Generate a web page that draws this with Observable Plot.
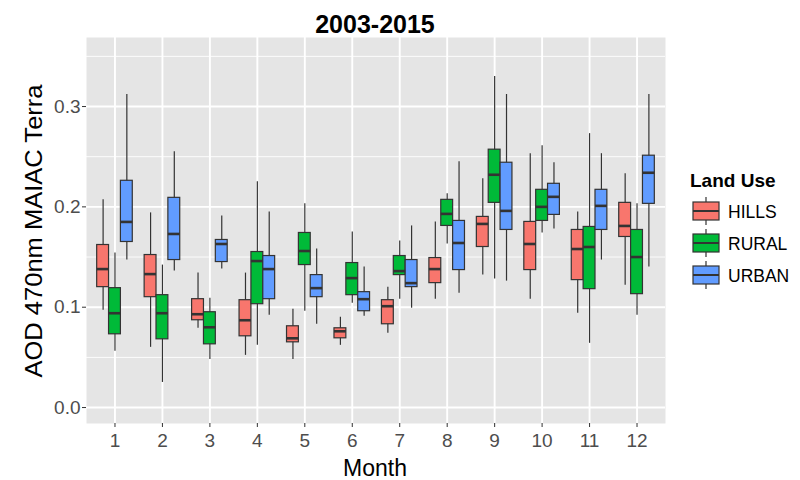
<!DOCTYPE html>
<html>
<head>
<meta charset="utf-8">
<script src="https://cdn.jsdelivr.net/npm/d3@7"></script>
<script src="https://cdn.jsdelivr.net/npm/@observablehq/plot@0.6"></script>
<style>
  html, body { margin: 0; padding: 0; background: #fff; }
  #wrap { position: relative; width: 800px; height: 480px; font-family: "Liberation Sans", Arial, sans-serif; }
  #wrap svg { position: absolute; left: 0; top: 0; }
</style>
</head>
<body>
<div id="wrap"></div>
<script>
// ---- data ----
const months = [1, 2, 3, 4, 5, 6, 7, 8, 9, 10, 11, 12];
const landUses = ["HILLS", "RURAL", "URBAN"];
const landColors = ["#F8766D", "#00BA38", "#619CFF"];
const yTicks = [0.0, 0.1, 0.2, 0.3];
const yMinorTicks = [0.05, 0.15, 0.25, 0.35];

const hillsLo  = [0.097, 0.060, 0.079, 0.052, 0.048, 0.062, 0.074, 0.108, 0.132, 0.108, 0.094, 0.122];
const hillsQ1  = [0.120, 0.110, 0.087, 0.071, 0.065, 0.069, 0.083, 0.124, 0.160, 0.137, 0.127, 0.170];
const hillsMed = [0.138, 0.133, 0.093, 0.087, 0.069, 0.076, 0.101, 0.138, 0.183, 0.163, 0.158, 0.181];
const hillsQ3  = [0.162, 0.152, 0.108, 0.107, 0.081, 0.079, 0.107, 0.149, 0.190, 0.185, 0.177, 0.204];
const hillsHi  = [0.207, 0.194, 0.134, 0.134, 0.098, 0.090, 0.120, 0.185, 0.228, 0.253, 0.195, 0.233];

const ruralLo  = [0.056, 0.025, 0.048, 0.062, 0.096, 0.104, 0.108, 0.163, 0.128, 0.174, 0.064, 0.092];
const ruralQ1  = [0.073, 0.068, 0.063, 0.103, 0.142, 0.112, 0.132, 0.181, 0.204, 0.186, 0.118, 0.113];
const ruralMed = [0.094, 0.094, 0.080, 0.146, 0.156, 0.129, 0.136, 0.193, 0.232, 0.200, 0.160, 0.150];
const ruralQ3  = [0.119, 0.112, 0.095, 0.155, 0.174, 0.144, 0.151, 0.207, 0.257, 0.217, 0.180, 0.177];
const ruralHi  = [0.154, 0.142, 0.109, 0.225, 0.203, 0.175, 0.166, 0.213, 0.330, 0.261, 0.273, 0.203];

const urbanLo  = [0.147, 0.136, 0.138, 0.092, 0.083, 0.091, 0.099, 0.114, 0.126, 0.178, 0.147, 0.140];
const urbanQ1  = [0.165, 0.147, 0.145, 0.108, 0.110, 0.096, 0.120, 0.137, 0.177, 0.192, 0.177, 0.203];
const urbanMed = [0.185, 0.173, 0.163, 0.138, 0.119, 0.108, 0.124, 0.164, 0.196, 0.210, 0.201, 0.234];
const urbanQ3  = [0.226, 0.209, 0.167, 0.151, 0.132, 0.115, 0.147, 0.186, 0.244, 0.223, 0.217, 0.251];
const urbanHi  = [0.312, 0.255, 0.191, 0.195, 0.158, 0.140, 0.181, 0.245, 0.312, 0.244, 0.253, 0.312];

const titleText = "2003-2015";
const xLabel = "Month";
const yLabel = "AOD 470nm MAIAC Terra";
const legendTitle = "Land Use";

// ---- build table ----
const stats = {
  HILLS: [hillsLo, hillsQ1, hillsMed, hillsQ3, hillsHi],
  RURAL: [ruralLo, ruralQ1, ruralMed, ruralQ3, ruralHi],
  URBAN: [urbanLo, urbanQ1, urbanMed, urbanQ3, urbanHi]
};
const rows = [];
landUses.forEach((lu, gi) => {
  const [lo, q1, med, q3, hi] = stats[lu];
  months.forEach((m, i) => {
    rows.push({month: m, group: lu, gi, lo: lo[i], q1: q1[i], med: med[i], q3: q3[i], hi: hi[i]});
  });
});

// dodge: 3 groups in 0.75 of a category width
const dodge = 0.75, n = landUses.length, bw = dodge / n;
const cx = d => d.month - dodge / 2 + bw * (d.gi + 0.5);
const x1 = d => cx(d) - bw / 2;
const x2 = d => cx(d) + bw / 2;

const ink = "#333333";
const textCol = "#4D4D4D";

const plot = Plot.plot({
  width: 800,
  height: 480,
  marginTop: 37,
  marginBottom: 57,
  marginLeft: 86,
  marginRight: 135,
  style: {fontFamily: "'Liberation Sans', Arial, sans-serif", background: "transparent"},
  x: {type: "linear", domain: [0.4, 12.6]},
  y: {domain: [-0.0159, 0.3688]},
  color: {domain: landUses, range: landColors},
  marks: [
    Plot.frame({fill: "#E5E5E5", stroke: "none"}),
    Plot.ruleY(yMinorTicks, {stroke: "#FFFFFF", strokeWidth: 0.9}),
    Plot.ruleY(yTicks, {stroke: "#FFFFFF", strokeWidth: 1.9}),
    Plot.ruleX(months, {stroke: "#FFFFFF", strokeWidth: 1.9}),
    Plot.ruleX(rows, {x: cx, y1: "lo", y2: "hi", stroke: ink, strokeWidth: 1.2}),
    Plot.rect(rows, {x1, x2, y1: "q1", y2: "q3", fill: "group", stroke: ink, strokeWidth: 1.2}),
    Plot.ruleY(rows, {x1, x2, y: "med", stroke: ink, strokeWidth: 2.6}),
    Plot.axisY({ticks: yTicks, tickFormat: d3.format(".1f"), label: null, fontSize: 19,
      tickSize: 4, tickPadding: 2, stroke: ink, color: textCol}),
    Plot.axisX({ticks: months, tickFormat: d => String(d), label: null, fontSize: 19,
      tickSize: 4, tickPadding: 6, stroke: ink, color: textCol})
  ]
});

const wrap = document.getElementById("wrap");
wrap.appendChild(plot);

// ---- overlay: titles + legend ----
const colorScale = plot.scale("color");
const ov = d3.select(wrap).append("svg")
  .attr("width", 800).attr("height", 480)
  .style("font-family", "'Liberation Sans', Arial, sans-serif");

ov.append("text").text(titleText)
  .attr("x", 375).attr("y", 33).attr("text-anchor", "middle")
  .attr("font-size", 25).attr("font-weight", "bold").attr("fill", "#000");

ov.append("text").text(xLabel)
  .attr("x", 375).attr("y", 476).attr("text-anchor", "middle")
  .attr("font-size", 23).attr("fill", "#000");

ov.append("text").text(yLabel)
  .attr("transform", "translate(42,231) rotate(-90)")
  .attr("text-anchor", "middle")
  .attr("font-size", 24).attr("fill", "#000")
  .attr("textLength", 293).attr("lengthAdjust", "spacingAndGlyphs");

ov.append("text").text(legendTitle)
  .attr("x", 690).attr("y", 187)
  .attr("font-size", 19).attr("font-weight", "bold").attr("fill", "#000");

colorScale.domain.forEach((lu, i) => {
  const cy = 211 + i * 32;
  const g = ov.append("g");
  g.append("line").attr("x1", 706).attr("x2", 706).attr("y1", cy - 14).attr("y2", cy + 14)
    .attr("stroke", ink).attr("stroke-width", 1.2);
  g.append("rect").attr("x", 693).attr("y", cy - 9).attr("width", 26).attr("height", 18)
    .attr("fill", colorScale.range[i]).attr("stroke", ink).attr("stroke-width", 1.2);
  g.append("line").attr("x1", 693).attr("x2", 719).attr("y1", cy).attr("y2", cy)
    .attr("stroke", ink).attr("stroke-width", 2);
  g.append("text").text(lu).attr("x", 728).attr("y", cy + 6.5)
    .attr("font-size", 17.5).attr("fill", "#000");
});
</script>
</body>
</html>
